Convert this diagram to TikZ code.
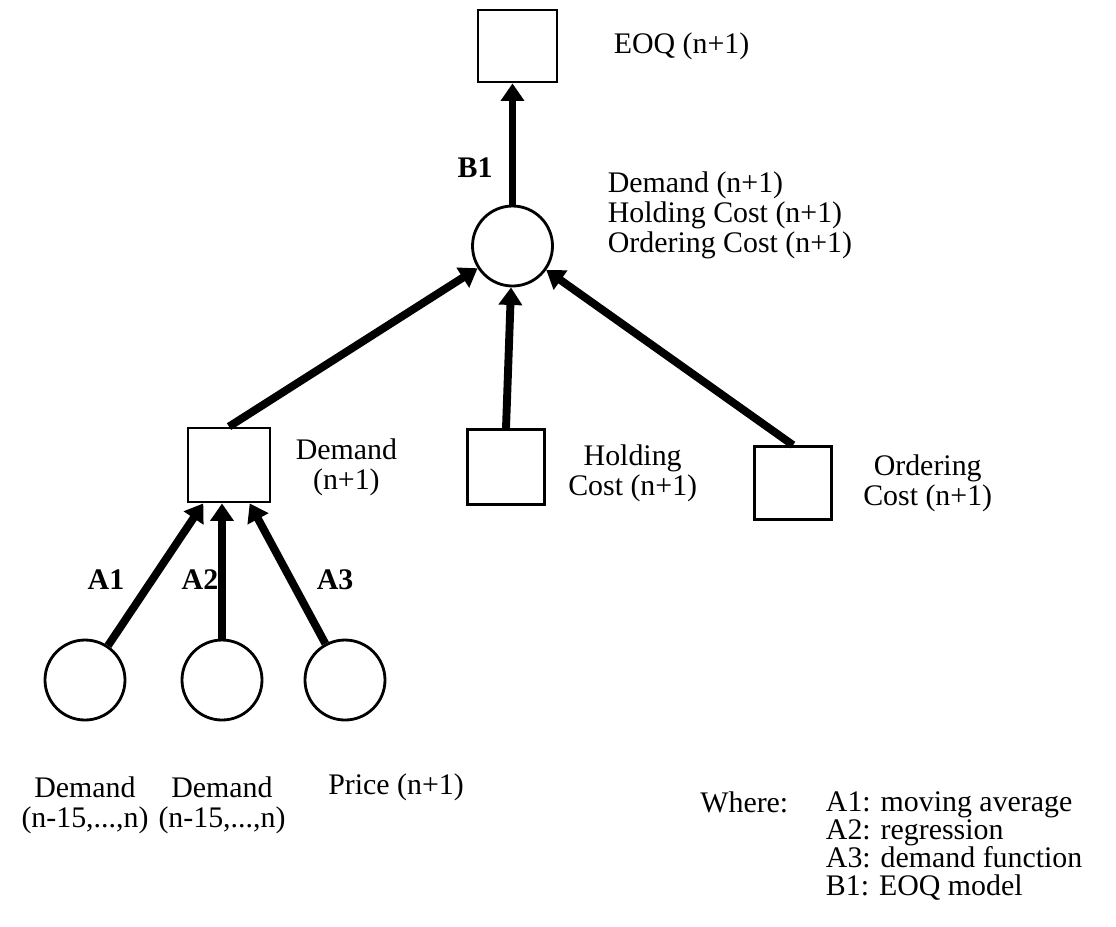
\documentclass[tikz,border=0pt]{standalone}
\usepackage{fontspec}
\setmainfont{Liberation Serif}
\usetikzlibrary{arrows.meta, positioning}

\begin{document}
\begin{tikzpicture}[
    box/.style={draw, line width=1.6pt, minimum width=1.58cm, minimum height=1.44cm, inner sep=0pt},
    stage/.style={draw, circle, line width=1.6pt, minimum size=1.6cm, inner sep=0pt},
    lbl/.style={inner sep=0pt, align=center, font=\fontsize{17}{17}\selectfont},
    tag/.style={inner sep=0pt, font=\fontsize{17}{17}\selectfont\bfseries},
    link/.style={line width=4.5pt, -{Triangle[length=10pt, width=13pt]}}]

  \useasboundingbox (0,0) rectangle (22.32,-18.52);

  % top: EOQ result and the combined forecasts
  \node[box] (eoq) at (10.35,-0.92) {};
  \node[lbl, right=1.1cm of eoq] (eoqlbl) {EOQ (n+1)};
  \node[stage] (next) at (10.25,-4.92) {};
  \node[lbl, align=left, anchor=west] (nextlbl) at (12.15,-4.30)
       {Demand (n+1)\\Holding Cost (n+1)\\Ordering Cost (n+1)};

  % middle row - one box per forecast
  \node[box, minimum width=1.64cm, minimum height=1.48cm] (dem) at (4.58,-9.30) {};
  \node[lbl, right=0.48cm of dem, yshift=-0.04cm] (demlbl) {Demand\\(n+1)};
  \node[box, minimum width=1.54cm, minimum height=1.50cm] (hold) at (10.12,-9.34) {};
  \node[lbl, right=0.44cm of hold, yshift=-0.13cm] (holdlbl) {Holding\\Cost (n+1)};
  \node[box, minimum width=1.54cm, minimum height=1.46cm] (ord) at (15.86,-9.66) {};
  \node[lbl, right=0.6cm of ord] (ordlbl) {Ordering\\Cost (n+1)};

  % bottom row - raw data
  \node[stage] (hist1) at (1.70,-13.60) {};
  \node[stage] (hist2) at (4.44,-13.60) {};
  \node[stage] (price) at (6.90,-13.60) {};
  \node[lbl, below=1.1cm of hist1] (hist1lbl) {Demand\\(n-15,...,n)};
  \node[lbl, below=1.1cm of hist2] (hist2lbl) {Demand\\(n-15,...,n)};
  \node[lbl, anchor=west] (pricelbl) at (6.56,-15.74) {Price (n+1)};

  % connectors
  \draw[link] (hist1) -- (dem);
  \draw[link] (hist2) -- (hist2 |- dem.south);
  \draw[link] (price) -- (dem);
  \draw[link] (dem.north) -- (next);
  \draw[link] (hold.north) -- (next);
  \draw[link] (ord.north) -- (next);
  \draw[link] (next) -- (next |- eoq.south);

  \node[tag] (a1) at (2.12,-11.60) {A1};
  \node[tag] (a2) at (4.00,-11.60) {A2};
  \node[tag] (a3) at (6.70,-11.60) {A3};
  \node[tag] (b1) at (9.50,-3.36) {B1};

  % key
  \node[lbl, anchor=west] (where) at (14.0,-16.04) {Where:};
  \node[lbl, align=left, font=\fontsize{17}{16}\selectfont,
        below right=0cm and 0.74cm of where.north east] (key)
       {A1: moving average\\A2: regression\\A3: demand function\\B1: EOQ model};
\end{tikzpicture}
\end{document}
